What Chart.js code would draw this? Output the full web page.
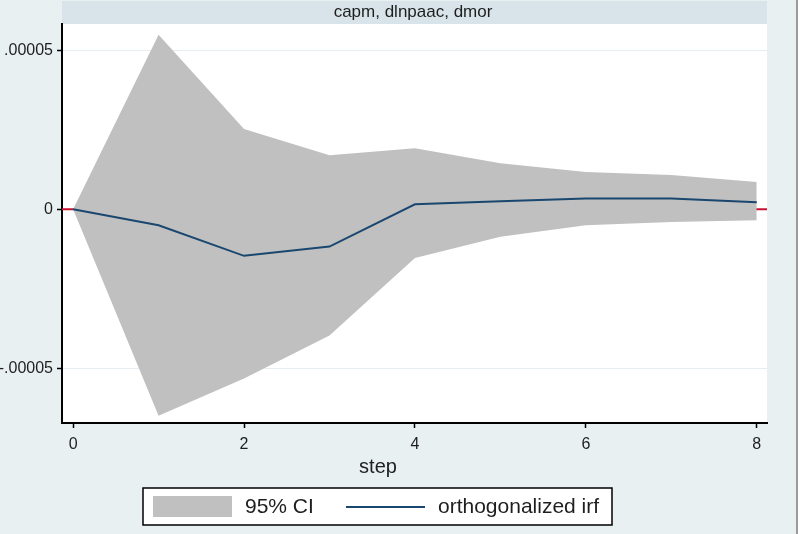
<!DOCTYPE html>
<html><head><meta charset="utf-8">
<script src="https://cdn.jsdelivr.net/npm/chart.js@4/dist/chart.umd.min.js"></script>
<style>html,body{margin:0;padding:0;background:#e8f0f2;overflow:hidden}</style>
</head><body><canvas id="c" width="798" height="534"></canvas>
<script>
const panelTitle = 'capm, dlnpaac, dmor';
const xTitle = 'step';
const steps = [0, 1, 2, 3, 4, 5, 6, 7, 8];
const irf = [0, -0.50e-5, -1.46e-5, -1.17e-5, 0.16e-5, 0.25e-5, 0.34e-5, 0.34e-5, 0.22e-5];
const ciUpper = [0, 5.48e-5, 2.52e-5, 1.70e-5, 1.92e-5, 1.45e-5, 1.17e-5, 1.08e-5, 0.86e-5];
const ciLower = [0, -6.48e-5, -5.31e-5, -3.96e-5, -1.53e-5, -0.86e-5, -0.50e-5, -0.40e-5, -0.34e-5];
const xTicks = [0, 2, 4, 6, 8];
const yTickValues = [-5e-5, 0, 5e-5];
const yTickLabels = ['-.00005', '0', '.00005'];
const legendLabels = ['95% CI', 'orthogonalized irf'];
const xRange = [-0.13, 8.12];
const yRange = [-6.71e-5, 5.82e-5];

const FONT = 'Liberation Sans, Arial, sans-serif';
const BAND = '#c0c0c0', LINE = '#1a476f', ZERO = '#c8102e';
const toXY = arr => steps.map((s, i) => ({x: s, y: arr[i]}));

const decor = {
  id: 'decor',
  beforeDraw(chart) {
    const ctx = chart.ctx, a = chart.chartArea;
    ctx.save();
    ctx.fillStyle = '#e8f0f2';
    ctx.fillRect(0, 0, chart.width, chart.height);
    ctx.fillStyle = '#ffffff';
    ctx.fillRect(a.left, a.top, a.right - a.left, a.bottom - a.top);
    ctx.fillStyle = '#d8e4ea';
    ctx.fillRect(a.left, 1, a.right - a.left, a.top - 1);
    ctx.restore();
  },
  beforeDatasetsDraw(chart) {
    const ctx = chart.ctx, a = chart.chartArea, y = chart.scales.y.getPixelForValue(0);
    ctx.save();
    ctx.strokeStyle = ZERO; ctx.lineWidth = 2;
    ctx.beginPath(); ctx.moveTo(a.left, y); ctx.lineTo(a.right, y); ctx.stroke();
    ctx.restore();
  },
  afterDraw(chart) {
    const ctx = chart.ctx;
    ctx.save();
    ctx.fillStyle = '#1e1e1e';
    ctx.textBaseline = 'middle';
    ctx.textAlign = 'center';
    ctx.font = '17px ' + FONT;
    ctx.fillText(panelTitle, 413, 12);
    ctx.font = '20px ' + FONT;
    ctx.fillText(xTitle, 378, 467);
    // legend
    ctx.fillStyle = '#ffffff';
    ctx.fillRect(143, 488, 469, 37);
    ctx.strokeStyle = '#000'; ctx.lineWidth = 1.5;
    ctx.strokeRect(143, 488, 469, 37);
    ctx.fillStyle = BAND;
    ctx.fillRect(153, 496, 79, 21);
    ctx.strokeStyle = LINE; ctx.lineWidth = 2;
    ctx.beginPath(); ctx.moveTo(346, 507); ctx.lineTo(425, 507); ctx.stroke();
    ctx.fillStyle = '#1e1e1e';
    ctx.textAlign = 'left';
    ctx.font = '21px ' + FONT;
    ctx.fillText(legendLabels[0], 245, 507);
    ctx.fillText(legendLabels[1], 438, 507);
    // right frame edge
    ctx.fillStyle = '#9a9a9a';
    ctx.fillRect(796, 0, 2, chart.height);
    ctx.restore();
  }
};

new Chart(document.getElementById('c'), {
  type: 'line',
  data: {
    datasets: [
      {label: legendLabels[1], data: toXY(irf), borderColor: LINE, borderWidth: 2, pointRadius: 0, fill: false, tension: 0, order: 0},
      {label: legendLabels[0], data: toXY(ciUpper), borderWidth: 0, borderColor: BAND, backgroundColor: BAND, pointRadius: 0, fill: '+1', tension: 0, order: 1},
      {label: legendLabels[0] + ' lower', data: toXY(ciLower), borderWidth: 0, borderColor: BAND, backgroundColor: BAND, pointRadius: 0, fill: false, tension: 0, order: 2}
    ]
  },
  options: {
    responsive: false,
    animation: false,
    devicePixelRatio: 1,
    layout: {padding: {left: 0, top: 24, right: 31, bottom: 0}},
    plugins: {legend: {display: false}, tooltip: {enabled: false}, title: {display: false}},
    scales: {
      x: {
        type: 'linear', min: xRange[0], max: xRange[1],
        afterFit: s => { s.height = 111; },
        afterBuildTicks: s => { s.ticks = xTicks.map(v => ({value: v})); },
        ticks: {color: '#1e1e1e', font: {family: FONT, size: 16}, padding: 7, maxRotation: 0, callback: v => String(v)},
        grid: {drawOnChartArea: false, drawTicks: true, tickLength: 5, tickColor: '#000', tickWidth: 1.5},
        border: {display: true, color: '#000', width: 2}
      },
      y: {
        type: 'linear', min: yRange[0], max: yRange[1],
        afterFit: s => { s.width = 62; },
        afterBuildTicks: s => { s.ticks = yTickValues.map(v => ({value: v})); },
        ticks: {color: '#1e1e1e', font: {family: FONT, size: 16}, padding: 4,
          callback: v => { const i = yTickValues.indexOf(v); return i >= 0 ? yTickLabels[i] : ''; }},
        grid: {color: '#e6eef2', lineWidth: 1, drawTicks: true, tickLength: 5, tickColor: '#000', tickWidth: 1.5},
        border: {display: true, color: '#000', width: 2}
      }
    }
  },
  plugins: [decor]
});
</script>
</body></html>
